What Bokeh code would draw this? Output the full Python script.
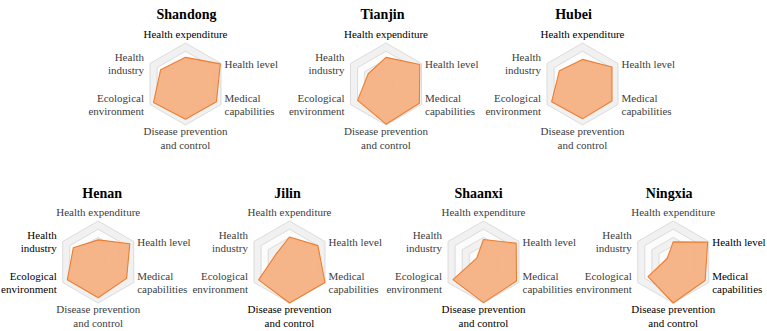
import math
from bokeh.plotting import figure
from bokeh.models import Range1d, ColumnDataSource
from bokeh.core.properties import value
from bokeh.embed import file_html
from bokeh.resources import INLINE

# ---------------- data ----------------
categories = ["Health expenditure", "Health level", "Medical capabilities",
              "Disease prevention and control", "Ecological environment", "Health industry"]
category_lines = [["Health expenditure"], ["Health level"], ["Medical", "capabilities"],
                  ["Disease prevention", "and control"], ["Ecological", "environment"],
                  ["Health", "industry"]]
regions = ["Shandong", "Tianjin", "Hubei", "Henan", "Jilin", "Shaanxi", "Ningxia"]
shandong = [0.65, 0.98, 0.87, 0.86, 0.90, 0.70]
tianjin = [0.65, 0.95, 0.94, 0.98, 0.80, 0.50]
hubei = [0.60, 0.83, 0.83, 0.85, 0.87, 0.65]
henan = [0.54, 0.89, 0.80, 0.87, 0.87, 0.70]
jilin = [0.61, 0.80, 1.00, 1.00, 0.87, 0.38]
shaanxi = [0.55, 0.92, 0.93, 0.99, 0.86, 0.19]
ningxia = [0.49, 0.97, 0.90, 1.00, 0.71, 0.17]
series = [shandong, tianjin, hubei, henan, jilin, shaanxi, ningxia]
# indices of the categories whose labels are emphasised (darker) in each chart
highlights = [[0], [0], [0], [4, 5], [3], [3], [1, 2, 3]]
levels = [0.2, 0.4, 0.6, 0.8, 1.0]

# ---------------- layout ----------------
W, H = 767, 331
R = 41.0
centers = [(185.0, 83.5), (385.5, 83.5), (582.0, 83.5),
           (97.7, 261.5), (289.0, 261.5), (483.0, 261.5), (672.7, 261.5)]
title_pos = [(186.0, 13.5), (382.0, 13.5), (573.0, 13.5),
             (101.7, 193.0), (287.0, 193.0), (478.0, 193.0), (668.7, 193.0)]

p = figure(width=W, height=H, output_backend="svg", toolbar_location=None,
           x_range=Range1d(0, W), y_range=Range1d(H, 0), min_border=0)
p.axis.visible = False
p.grid.visible = False
p.outline_line_color = None
p.background_fill_color = "white"
p.border_fill_color = "white"

angles = [math.radians(90 - 60 * k) for k in range(6)]

def pts(cx, cy, vals):
    xs = [cx + R * v * math.cos(a) for v, a in zip(vals, angles)]
    ys = [cy - R * v * math.sin(a) for v, a in zip(vals, angles)]
    return xs, ys

band_colors = ["#eeeeee", "#ffffff", "#eeeeee", "#ffffff", "#eeeeee"]

for i, (cx, cy) in enumerate(centers):
    # grid bands from outer to inner
    for j in range(len(levels) - 1, -1, -1):
        xs, ys = pts(cx, cy, [levels[j]] * 6)
        p.patch(xs, ys, fill_color=band_colors[j], fill_alpha=0.8,
                line_color="#d4d4d4", line_width=0.8)
    xs, ys = pts(cx, cy, series[i])
    p.patch(xs, ys, fill_color="#F4B183", fill_alpha=0.95,
            line_color="#ED7D31", line_width=1.1)

    # labels
    tx, ty, ta, tc, texts = [], [], [], [], []
    for k, lines in enumerate(category_lines):
        col = "#000000" if k in highlights[i] else "#404040"
        vx = cx + R * math.cos(angles[k])
        vy = cy - R * math.sin(angles[k])
        n = len(lines)
        for m, line in enumerate(lines):
            if k == 0:
                x, y, al = vx, vy - 9.5, "center"
            elif k == 3:
                x, y, al = vx, vy + 6 + 14 * m, "center"
            elif k in (1, 2):
                x, y, al = vx + 3.5, vy + (m - (n - 1) / 2) * 13, "left"
            else:
                x, y, al = vx - 6, vy + (m - (n - 1) / 2) * 13, "right"
            tx.append(x); ty.append(y); ta.append(al); tc.append(col); texts.append(line)
    src = ColumnDataSource(dict(x=tx, y=ty, text=texts, align=ta, color=tc))
    p.text(x="x", y="y", text="text", source=src, text_align="align",
           text_baseline="middle", text_color="color",
           text_font=value("Liberation Serif"), text_font_size="11px")

    p.text(x=[title_pos[i][0]], y=[title_pos[i][1]], text=[regions[i]],
           text_align="center", text_baseline="alphabetic",
           text_font=value("Liberation Serif"),
           text_font_style="bold", text_font_size="14px", text_color="#000000")

open("out.html", "w").write(file_html(p, INLINE))
